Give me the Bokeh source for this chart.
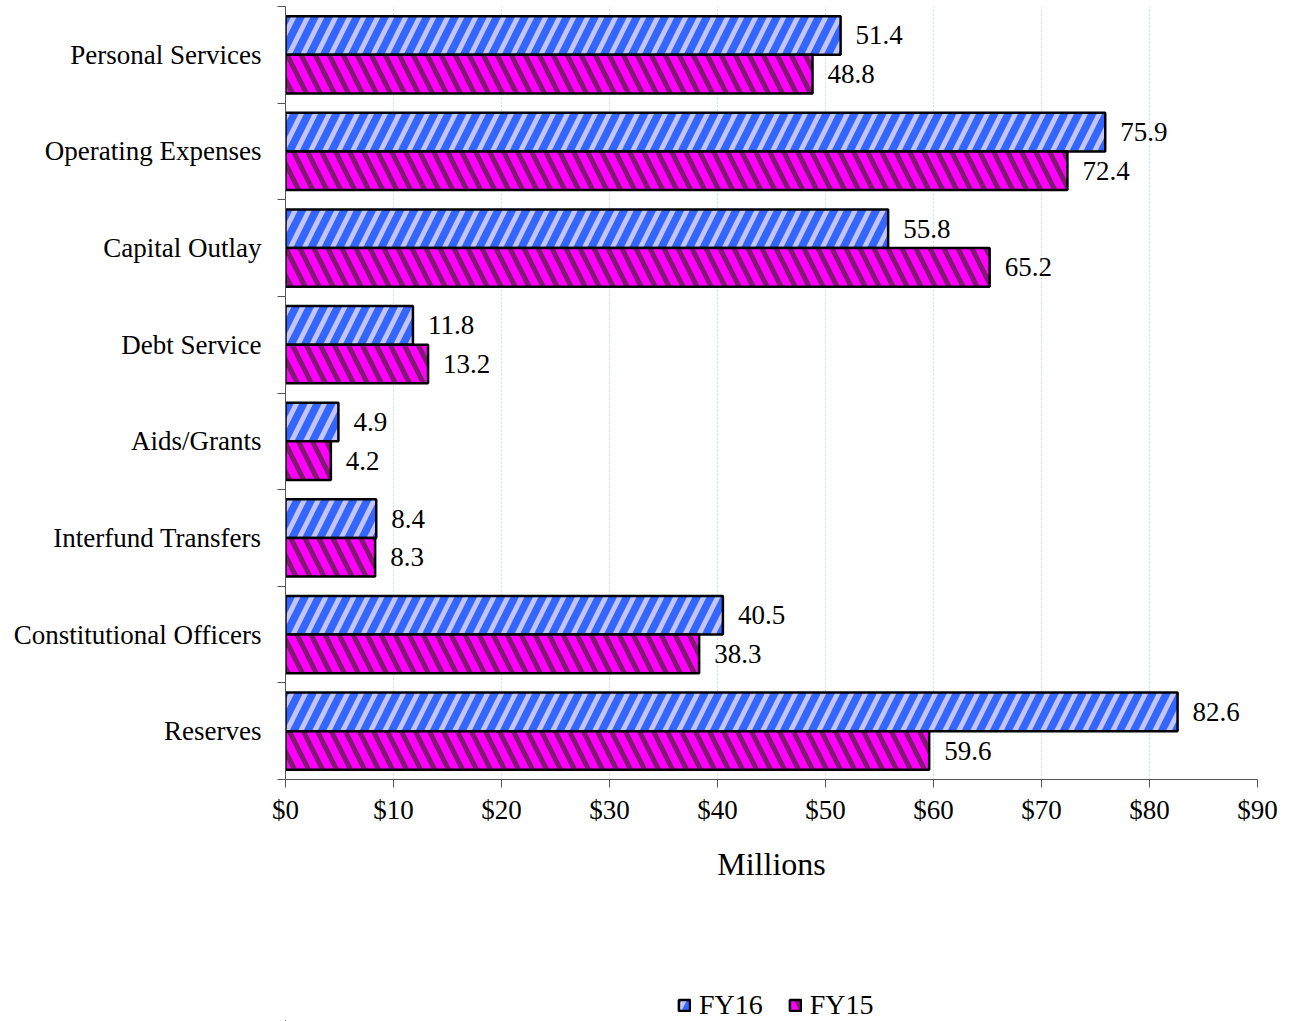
from bokeh.plotting import figure
from bokeh.layouts import column
from bokeh.models import ColumnDataSource, FixedTicker, Legend, LegendItem
from bokeh.core.properties import value
from bokeh.embed import file_html
from bokeh.resources import INLINE

categories = ["Personal Services", "Operating Expenses", "Capital Outlay", "Debt Service",
              "Aids/Grants", "Interfund Transfers", "Constitutional Officers", "Reserves"]
fy16 = [51.4, 75.9, 55.8, 11.8, 4.9, 8.4, 40.5, 82.6]
fy15 = [48.8, 72.4, 65.2, 13.2, 4.2, 8.3, 38.3, 59.6]
x_ticks = [0, 10, 20, 30, 40, 50, 60, 70, 80, 90]
x_tick_labels = ["$0", "$10", "$20", "$30", "$40", "$50", "$60", "$70", "$80", "$90"]
series_names = ["FY16", "FY15"]

FONT = "Liberation Serif"
n = len(categories)
centers = [n - i - 0.5 for i in range(n)]

STY16 = dict(fill_color="#3366ff", line_color="black", line_width=2.5,
             hatch_pattern="right_diagonal_line", hatch_color="#c4c4ff",
             hatch_scale=28, hatch_weight=5)
STY15 = dict(fill_color="#ff00ff", line_color="black", line_width=2.5,
             hatch_pattern="left_diagonal_line", hatch_color="#801a70",
             hatch_scale=28, hatch_weight=5)

src16 = ColumnDataSource(dict(y=[c + 0.2 for c in centers], v=fy16,
                              lab=[f"{v:.1f}" for v in fy16]))
src15 = ColumnDataSource(dict(y=[c - 0.2 for c in centers], v=fy15,
                              lab=[f"{v:.1f}" for v in fy15]))

FW = 972
BL, BR = 285, 25
FH = 773
MAIN_H = 989
LEG_H = 32

p = figure(frame_width=FW, frame_height=FH, x_range=(0, 90), y_range=(0, n),
           output_backend="svg", toolbar_location=None,
           min_border_left=BL, min_border_right=BR, min_border_top=6,
           min_border_bottom=MAIN_H - FH - 6)
p.outline_line_color = None

p.hbar(y="y", right="v", left=0, height=0.4, source=src16, **STY16)
p.hbar(y="y", right="v", left=0, height=0.4, source=src15, **STY15)

for src in (src16, src15):
    p.text(x="v", y="y", text="lab", source=src, x_offset=15,
           text_baseline="middle", text_align="left",
           text_font=value(FONT), text_font_size="27px", text_color="black")

# x axis
p.xaxis.ticker = FixedTicker(ticks=x_ticks)
p.xaxis.major_label_overrides = {t: l for t, l in zip(x_ticks, x_tick_labels)}
p.xaxis.major_label_text_font = FONT
p.xaxis.major_label_text_font_size = "27px"
p.xaxis.major_label_text_color = "black"
p.xaxis.major_tick_out = 8
p.xaxis.major_tick_in = 0
p.xaxis.minor_tick_out = 0
p.xaxis.minor_tick_in = 0
p.xaxis.major_label_standoff = 7
p.xaxis.axis_label = "Millions"
p.xaxis.axis_label_text_font = FONT
p.xaxis.axis_label_text_font_size = "32px"
p.xaxis.axis_label_text_font_style = "normal"
p.xaxis.axis_label_text_color = "black"
p.xaxis.axis_label_standoff = 18
p.xaxis.axis_line_color = "#555555"
p.xaxis.major_tick_line_color = "#555555"

# y axis
p.yaxis.ticker = FixedTicker(ticks=centers, minor_ticks=list(range(n + 1)))
p.yaxis.major_label_overrides = {c: cat for c, cat in zip(centers, categories)}
p.yaxis.major_label_text_font = FONT
p.yaxis.major_label_text_font_size = "27px"
p.yaxis.major_label_text_color = "black"
p.yaxis.major_tick_out = 0
p.yaxis.major_tick_in = 0
p.yaxis.minor_tick_out = 8
p.yaxis.minor_tick_in = 0
p.yaxis.major_label_standoff = 16
p.yaxis.axis_line_color = "#555555"
p.yaxis.minor_tick_line_color = "#555555"

p.xgrid.grid_line_color = "#c8d6f0"
p.xgrid.grid_line_dash = "2 2"
p.ygrid.visible = False

# legend strip below the chart
pl = figure(frame_width=FW, frame_height=LEG_H, x_range=(0, 1), y_range=(0, 1),
            output_backend="svg", toolbar_location=None,
            min_border_left=BL, min_border_right=BR, min_border_top=0,
            min_border_bottom=0)
pl.axis.visible = False
pl.grid.visible = False
pl.outline_line_color = None
l16 = pl.hbar(y=[-50], right=[-40], left=-45, height=0.4, **STY16)
l15 = pl.hbar(y=[-50], right=[-40], left=-45, height=0.4, **STY15)
legend = Legend(items=[LegendItem(label=series_names[0], renderers=[l16]),
                       LegendItem(label=series_names[1], renderers=[l15])],
                orientation="horizontal", location=(392, 0),
                border_line_color=None, background_fill_alpha=0,
                padding=0, margin=0, glyph_width=14, glyph_height=14,
                label_standoff=8, spacing=25, label_height=30,
                label_text_font=FONT, label_text_font_size="28px",
                label_text_color="black")
pl.add_layout(legend)

layout = column(p, pl, spacing=0)
open("out.html", "w").write(file_html(layout, INLINE))
